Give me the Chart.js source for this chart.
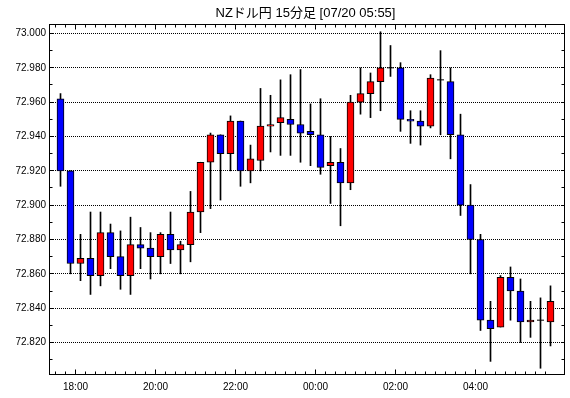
<!DOCTYPE html>
<html>
<head>
<meta charset="utf-8">
<script src="https://cdn.jsdelivr.net/npm/chart.js@4"></script>
<style>
html,body{margin:0;padding:0;background:#fff;}
#wrap{width:570px;height:398px;}
</style>
</head>
<body>
<div id="wrap"><canvas id="c" width="570" height="398"></canvas></div>
<script>
const titleText = 'NZドル円 15分足 [07/20 05:55]';

// candle start times (15 min)
const categories = ['17:30','17:45','18:00','18:15','18:30','18:45','19:00','19:15','19:30','19:45',
  '20:00','20:15','20:30','20:45','21:00','21:15','21:30','21:45','22:00','22:15',
  '22:30','22:45','23:00','23:15','23:30','23:45','00:00','00:15','00:30','00:45',
  '01:00','01:15','01:30','01:45','02:00','02:15','02:30','02:45','03:00','03:15',
  '03:30','03:45','04:00','04:15','04:30','04:45','05:00','05:15','05:30','05:45'];

const opens = [72.962,72.920,72.866,72.869,72.859,72.884,72.870,72.859,72.877,72.875,
  72.870,72.883,72.874,72.877,72.896,72.925,72.941,72.930,72.949,72.920,
  72.926,72.946,72.948,72.950,72.947,72.943,72.941,72.923,72.925,72.913,
  72.960,72.965,72.972,72.980,72.980,72.950,72.949,72.946,72.973,72.972,
  72.941,72.900,72.880,72.833,72.829,72.858,72.850,72.832,72.833,72.832];
const highs = [72.965,72.920,72.883,72.896,72.896,72.889,72.885,72.893,72.887,72.884,
  72.884,72.896,72.879,72.908,72.925,72.942,72.941,72.952,72.949,72.935,
  72.968,72.964,72.973,72.976,72.979,72.959,72.962,72.940,72.933,72.964,
  72.980,72.977,73.001,72.993,72.983,72.955,72.955,72.976,72.990,72.980,
  72.953,72.912,72.883,72.844,72.859,72.864,72.857,72.844,72.846,72.853];
const lows = [72.911,72.860,72.856,72.848,72.853,72.863,72.851,72.848,72.863,72.857,
  72.860,72.866,72.860,72.867,72.884,72.898,72.903,72.920,72.911,72.913,
  72.920,72.931,72.929,72.929,72.925,72.923,72.918,72.901,72.888,72.909,
  72.953,72.951,72.955,72.975,72.943,72.936,72.935,72.945,72.941,72.927,
  72.894,72.860,72.827,72.809,72.829,72.833,72.820,72.823,72.805,72.818];
const closes = [72.920,72.866,72.869,72.859,72.884,72.870,72.859,72.877,72.875,72.870,
  72.883,72.874,72.877,72.896,72.925,72.941,72.930,72.949,72.920,72.927,
  72.946,72.947,72.951,72.947,72.942,72.941,72.922,72.925,72.913,72.960,
  72.965,72.972,72.980,72.980,72.950,72.949,72.946,72.974,72.973,72.941,
  72.900,72.880,72.833,72.828,72.858,72.850,72.832,72.833,72.833,72.844];

const yTicks = [72.820,72.840,72.860,72.880,72.900,72.920,72.940,72.960,72.980,73.000];
const yMinorTicks = [72.810,72.830,72.850,72.870,72.890,72.910,72.930,72.950,72.970,72.990];
const xTickLabels = ['18:00','20:00','22:00','00:00','02:00','04:00'];

const Y_MIN = 72.80107, Y_MAX = 73.00553;
const X_MIN = -1.15, X_MAX = 50.45;

const UP = '#ff0000', DOWN = '#0000ff';

const wickData = categories.map((c, i) => ({x: i, y: [lows[i], highs[i]]}));
const bodyData = categories.map((c, i) => ({x: i, y: [opens[i], closes[i]]}));
const bodyColors = categories.map((c, i) => closes[i] >= opens[i] ? UP : DOWN);
const dojiData = [];
categories.forEach((c, i) => { if (opens[i] === closes[i]) dojiData.push({x: i, y: opens[i]}); });

// boundaries between candles (start time of each candle)
const boundaryValues = categories.map((c, i) => i - 0.5);
const majorValues = xTickLabels.map(l => categories.indexOf(l) - 0.5);

const frameAndTicks = {
  id: 'frameAndTicks',
  afterDraw(chart) {
    const ctx = chart.ctx;
    const a = chart.chartArea;
    const xs = chart.scales.x, ys = chart.scales.y;
    const L = a.left + 0.5, R = a.right - 0.5, T = a.top + 0.5, B = a.bottom - 0.5;
    ctx.save();
    ctx.strokeStyle = '#000';
    ctx.lineWidth = 1;
    ctx.setLineDash([]);
    ctx.beginPath();
    boundaryValues.forEach(v => {
      const px = Math.floor(xs.getPixelForValue(v)) + 0.5;
      const len = majorValues.includes(v) ? 5 : 3;
      ctx.moveTo(px, T); ctx.lineTo(px, T + len);
      ctx.moveTo(px, B); ctx.lineTo(px, B - len);
    });
    yTicks.forEach(v => {
      const py = Math.floor(ys.getPixelForValue(v)) + 0.5;
      ctx.moveTo(L, py); ctx.lineTo(L + 4, py);
      ctx.moveTo(R, py); ctx.lineTo(R - 3, py);
    });
    yMinorTicks.forEach(v => {
      const py = Math.floor(ys.getPixelForValue(v)) + 0.5;
      ctx.moveTo(L, py); ctx.lineTo(L + 3, py);
      ctx.moveTo(R, py); ctx.lineTo(R - 3, py);
    });
    ctx.stroke();
    ctx.strokeRect(L, T, R - L, B - T);
    // title
    ctx.fillStyle = '#000';
    ctx.font = '13px "Liberation Sans", "Noto Sans CJK JP", sans-serif';
    ctx.textAlign = 'center';
    ctx.textBaseline = 'middle';
    ctx.fillText(titleText, (a.left + a.right) / 2 - 1.5, 13);
    ctx.restore();
  }
};

new Chart(document.getElementById('c'), {
  type: 'bar',
  data: {
    datasets: [
      {
        label: 'wick',
        data: wickData,
        backgroundColor: '#000',
        borderWidth: 0,
        barThickness: 1,
        grouped: false,
        order: 3
      },
      {
        label: 'body',
        data: bodyData,
        backgroundColor: bodyColors,
        borderColor: '#000',
        borderWidth: 1,
        borderSkipped: false,
        barThickness: 7,
        grouped: false,
        order: 2
      },
      {
        type: 'scatter',
        label: 'doji',
        data: dojiData,
        pointStyle: 'line',
        radius: 3.5,
        borderColor: '#000',
        backgroundColor: '#000',
        borderWidth: 1,
        order: 1
      }
    ]
  },
  options: {
    responsive: false,
    animation: false,
    devicePixelRatio: 1,
    layout: { padding: { top: 24, right: 5, left: 0, bottom: 0 } },
    plugins: { legend: { display: false }, tooltip: { enabled: false }, title: { display: false } },
    scales: {
      x: {
        type: 'linear',
        offset: false,
        min: X_MIN,
        max: X_MAX,
        afterBuildTicks(s) { s.ticks = majorValues.map(v => ({value: v})); },
        afterFit(s) { s.height = 23; },
        grid: { display: false, drawTicks: false },
        border: { display: false },
        ticks: {
          autoSkip: false,
          maxRotation: 0,
          padding: 6,
          color: '#000',
          font: { family: '"Liberation Sans", sans-serif', size: 10 },
          callback: (v, i) => xTickLabels[i]
        }
      },
      y: {
        type: 'linear',
        min: Y_MIN,
        max: Y_MAX,
        afterBuildTicks(s) { s.ticks = yTicks.map(v => ({value: v})); },
        afterFit(s) { s.width = 49; },
        grid: { color: '#000', lineWidth: 1, drawTicks: false },
        border: { display: false, dash: [1, 1] },
        ticks: {
          padding: 3,
          color: '#000',
          font: { family: '"Liberation Sans", sans-serif', size: 10 },
          callback: v => Number(v).toFixed(3)
        }
      }
    }
  },
  plugins: [frameAndTicks]
});
</script>
</body>
</html>
